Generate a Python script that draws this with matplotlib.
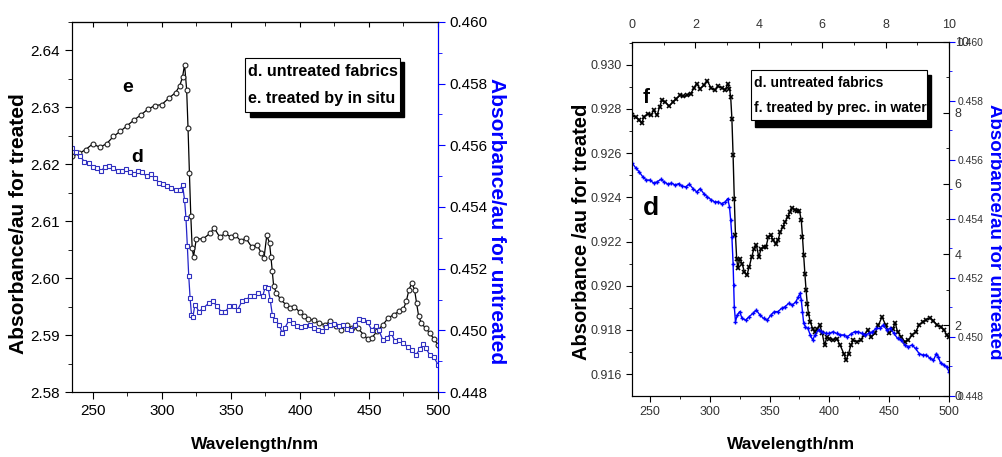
import matplotlib.pyplot as plt
from matplotlib.patches import Rectangle
from matplotlib.ticker import MultipleLocator

# ---- data ----
# left panel, curve e (treated by in situ), left axis
wl_e = [235, 240, 245, 250, 255, 260, 265, 270, 275, 280, 285, 290, 295, 300, 305, 310,
        313, 315, 316.5, 318, 319, 320, 321, 322, 323, 325, 330, 335, 338, 342, 346, 350,
        353, 357, 361, 365, 369, 372, 374, 376, 378, 379, 380, 381, 383, 386, 390, 393,
        396, 400, 403, 406, 410, 414, 418, 422, 426, 430, 434, 438, 442, 446, 449, 452,
        456, 460, 464, 468, 472, 475, 477, 479, 481, 483, 484.5, 486, 488, 491, 494, 497, 500]
abs_e = [2.6214, 2.6219, 2.6226, 2.6236, 2.6230, 2.6236, 2.6249, 2.6258, 2.6268, 2.6278,
         2.6287, 2.6297, 2.6303, 2.6305, 2.6316, 2.6326, 2.6338, 2.6353, 2.6375, 2.6331,
         2.6264, 2.6185, 2.6110, 2.6053, 2.6038, 2.6069, 2.6069, 2.6079, 2.6088, 2.6072,
         2.6079, 2.6072, 2.6076, 2.6066, 2.6070, 2.6055, 2.6059, 2.6044, 2.6035, 2.6075,
         2.6062, 2.6038, 2.6012, 2.5986, 2.5974, 2.5963, 2.5953, 2.5948, 2.5950, 2.5940,
         2.5934, 2.5928, 2.5926, 2.5921, 2.5918, 2.5924, 2.5916, 2.5909, 2.5918, 2.5912,
         2.5912, 2.5901, 2.5893, 2.5895, 2.5907, 2.5918, 2.5930, 2.5936, 2.5942, 2.5946,
         2.5959, 2.5980, 2.5991, 2.5980, 2.5956, 2.5933, 2.5921, 2.5912, 2.5904, 2.5893, 2.5883]

# left panel, curve d (untreated), right axis
wl_d1 = [235, 238, 241, 244, 247, 250, 253, 256, 259, 262, 265, 268, 271, 274, 277, 280,
         283, 286, 289, 292, 295, 298, 301, 304, 307, 310, 313, 315, 316.5, 317.5, 318.5,
         319.5, 320.5, 321.5, 322.5, 324, 327, 330, 334, 337, 340, 343, 346, 349, 352, 355,
         358, 361, 364, 367, 370, 373, 375, 377, 378.5, 380, 382, 385, 387, 389, 392, 395,
         398, 401, 404, 407, 410, 413, 416, 419, 422, 425, 428, 431, 434, 437, 440, 443,
         446, 449, 452, 455, 457, 460, 463, 466, 469, 472, 475, 478, 481, 484, 487, 489,
         491, 494, 497, 500]
abs_d1 = [0.45591, 0.45577, 0.45564, 0.45547, 0.45544, 0.45531, 0.45526, 0.45518, 0.45529,
          0.45533, 0.45526, 0.45518, 0.45518, 0.45523, 0.45515, 0.45507, 0.45518, 0.45512,
          0.45499, 0.45507, 0.45493, 0.45479, 0.45475, 0.45469, 0.45461, 0.45456, 0.45454,
          0.45472, 0.45423, 0.45364, 0.45274, 0.45177, 0.45105, 0.45051, 0.45043, 0.45083,
          0.45061, 0.45072, 0.45088, 0.45094, 0.45078, 0.45061, 0.45061, 0.45078, 0.45080,
          0.45067, 0.45094, 0.45099, 0.45110, 0.45110, 0.45121, 0.45110, 0.45142, 0.45137,
          0.45099, 0.45051, 0.45034, 0.45018, 0.44993, 0.45007, 0.45032, 0.45024, 0.45015,
          0.45011, 0.45015, 0.45018, 0.45007, 0.45002, 0.44997, 0.45011, 0.45018, 0.45021,
          0.45015, 0.45018, 0.45004, 0.45002, 0.45018, 0.45037, 0.45032, 0.45026, 0.45002,
          0.45015, 0.45002, 0.44970, 0.44975, 0.44991, 0.44964, 0.44970, 0.44959, 0.44946,
          0.44937, 0.44921, 0.44939, 0.44957, 0.44943, 0.44921, 0.44913, 0.44889]

# right panel, curve f (treated by prec. in water), left axis
wl_f = [235, 238, 241, 243, 245, 248, 251, 253, 256, 258, 260, 263, 266, 269, 272, 275,
        278, 281, 284, 287, 289, 292, 295, 298, 301, 304, 307, 310, 313, 315, 316.5, 317.5,
        318.5, 319.5, 320.5, 321.5, 322.5, 323.5, 325, 327, 329, 331, 333, 335, 337, 339,
        341, 343, 345, 347, 349, 351, 353, 355, 357, 359, 361, 363, 365, 367, 369, 371,
        373, 375, 376.5, 377.5, 378.5, 379.5, 380.5, 381.5, 382.5, 384, 386, 388, 390, 392,
        394, 396, 398, 400, 403, 406, 409, 412, 414, 416, 418, 420, 423, 426, 429, 432, 435,
        438, 441, 444, 447, 450, 453, 455, 457, 460, 463, 466, 469, 472, 475, 478, 481, 484,
        487, 490, 493, 496, 498, 500]
abs_f = [0.92771, 0.92763, 0.92751, 0.92736, 0.92763, 0.92778, 0.92771, 0.92794, 0.92771,
         0.92809, 0.92839, 0.92831, 0.92812, 0.92831, 0.92846, 0.92861, 0.92857, 0.92861,
         0.92869, 0.92896, 0.92914, 0.92892, 0.92907, 0.92926, 0.92896, 0.92884, 0.92902,
         0.92896, 0.92887, 0.92914, 0.92892, 0.92854, 0.92756, 0.92590, 0.92394, 0.92228,
         0.92123, 0.92078, 0.92123, 0.92100, 0.92063, 0.92048, 0.92085, 0.92130, 0.92168,
         0.92183, 0.92130, 0.92168, 0.92176, 0.92176, 0.92221, 0.92228, 0.92206, 0.92191,
         0.92206, 0.92243, 0.92266, 0.92289, 0.92311, 0.92334, 0.92353, 0.92344, 0.92338,
         0.92338, 0.92296, 0.92221, 0.92138, 0.92055, 0.91980, 0.91919, 0.91874, 0.91837,
         0.91806, 0.91791, 0.91806, 0.91822, 0.91784, 0.91731, 0.91769, 0.91761, 0.91754,
         0.91761, 0.91731, 0.91693, 0.91663, 0.91693, 0.91731, 0.91754, 0.91746, 0.91754,
         0.91776, 0.91799, 0.91769, 0.91784, 0.91822, 0.91859, 0.91822, 0.91784, 0.91806,
         0.91832, 0.91791, 0.91769, 0.91746, 0.91754, 0.91776, 0.91791, 0.91822, 0.91837,
         0.91847, 0.91856, 0.91841, 0.91822, 0.91814, 0.91799, 0.91776, 0.91766]

# right panel, curve d (untreated), right axis
wl_d2 = [235, 238, 241, 244, 247, 250, 253, 256, 259, 262, 265, 268, 271, 274, 277, 280,
         283, 286, 289, 292, 295, 298, 301, 304, 307, 310, 313, 315, 316.5, 317.5, 318.5,
         319.5, 320, 320.5, 321.5, 323, 325, 327, 330, 333, 336, 339, 342, 345, 348, 351,
         354, 357, 360, 363, 366, 369, 372, 374, 375.5, 376.5, 377.5, 378.5, 380, 382, 384,
         386, 388, 391, 394, 397, 400, 403, 406, 409, 412, 415, 418, 421, 424, 427, 430,
         433, 436, 439, 442, 445, 448, 451, 454, 457, 460, 463, 466, 469, 472, 475, 478,
         481, 484, 487, 489.5, 491, 493, 496, 498, 500]
abs_d2 = [0.45590, 0.45574, 0.45560, 0.45543, 0.45532, 0.45532, 0.45522, 0.45526, 0.45534,
          0.45526, 0.45518, 0.45522, 0.45515, 0.45520, 0.45511, 0.45509, 0.45518, 0.45503,
          0.45492, 0.45503, 0.45486, 0.45475, 0.45466, 0.45458, 0.45458, 0.45452, 0.45458,
          0.45469, 0.45441, 0.45396, 0.45340, 0.45249, 0.45176, 0.45103, 0.45052, 0.45074,
          0.45086, 0.45063, 0.45057, 0.45069, 0.45080, 0.45091, 0.45074, 0.45063, 0.45057,
          0.45074, 0.45086, 0.45086, 0.45097, 0.45103, 0.45114, 0.45108, 0.45120, 0.45136,
          0.45148, 0.45125, 0.45086, 0.45046, 0.45035, 0.45029, 0.45007, 0.44990, 0.45007,
          0.45024, 0.45018, 0.45012, 0.45012, 0.45018, 0.45012, 0.45007, 0.45007, 0.45001,
          0.45010, 0.45018, 0.45018, 0.45012, 0.45007, 0.45012, 0.45018, 0.45029, 0.45029,
          0.45040, 0.45024, 0.45029, 0.45012, 0.44995, 0.44990, 0.44973, 0.44967, 0.44973,
          0.44961, 0.44944, 0.44939, 0.44939, 0.44928, 0.44922, 0.44944, 0.44933, 0.44911,
          0.44905, 0.44899, 0.44882]

plt.rcParams['font.family'] = ['Liberation Sans', 'DejaVu Sans']

fig = plt.figure(figsize=(10.03, 4.57), dpi=100)


def place_ylabel(a, x, y):
    a.yaxis.set_label_coords(x, y)
    a.yaxis.label.set_va('center')
    a.yaxis.label.set_ha('center')


# ================= left panel =================
ax = fig.add_axes([0.0718, 0.1422, 0.3649, 0.8097])
ax.plot(wl_e, abs_e, color='black', lw=0.9, marker='o', ms=3.5, mfc='white',
        mec='#222222', mew=0.8)
ax.set_xlim(235, 500)
ax.set_ylim(2.58, 2.645)
ax.xaxis.set_major_locator(MultipleLocator(50))
ax.xaxis.set_minor_locator(MultipleLocator(25))
ax.yaxis.set_major_locator(MultipleLocator(0.01))
ax.yaxis.set_minor_locator(MultipleLocator(0.005))
ax.yaxis.set_major_formatter(plt.FormatStrFormatter('%.2f'))
ax.tick_params(which='both', direction='out', labelsize=11)
ax.tick_params(which='major', length=5)
ax.tick_params(which='minor', length=3)
top = ax.secondary_xaxis('top')
top.xaxis.set_major_locator(MultipleLocator(50))
top.xaxis.set_minor_locator(MultipleLocator(25))
top.tick_params(which='both', direction='in', labeltop=False)
top.tick_params(which='minor', length=3)
ax.set_xlabel('Wavelength/nm', fontsize=12.5, fontweight='bold')
ax.xaxis.set_label_coords(0.5, -0.143)
ax.xaxis.label.set_va('center')
ax.set_ylabel('Absorbance/au for treated', fontsize=15, fontweight='bold')
place_ylabel(ax, -0.1475, 0.454)

axb = ax.twinx()
axb.plot(wl_d1, abs_d1, color='#2424c8', lw=0.9, marker='s', ms=3.2, mfc='white',
         mec='#3030c0', mew=0.8)
axb.set_ylim(0.448, 0.460)
axb.yaxis.set_major_locator(MultipleLocator(0.002))
axb.yaxis.set_minor_locator(MultipleLocator(0.001))
axb.yaxis.set_major_formatter(plt.FormatStrFormatter('%.3f'))
axb.tick_params(which='both', direction='out', colors='blue', labelcolor='black',
                labelsize=11)
axb.tick_params(which='major', length=5)
axb.tick_params(which='minor', length=3)
axb.spines['right'].set_color('blue')
axb.set_ylabel('Absorbance/au for untreated', fontsize=15, fontweight='bold',
               color='blue', rotation=270)
place_ylabel(axb, 1.161, 0.462)

# legend box with shadow
ax.add_patch(Rectangle((0.486, 0.743), 0.421, 0.149, transform=ax.transAxes,
                       facecolor='black', edgecolor='black', zorder=5))
ax.add_patch(Rectangle((0.473, 0.757), 0.423, 0.146, transform=ax.transAxes,
                       facecolor='white', edgecolor='black', lw=0.8, zorder=6))
ax.text(0.482, 0.866, 'd. untreated fabrics', transform=ax.transAxes, fontsize=11.6,
        fontweight='bold', va='center', zorder=7)
ax.text(0.482, 0.793, 'e. treated by in situ', transform=ax.transAxes, fontsize=11.6,
        fontweight='bold', va='center', zorder=7)
ax.text(275, 2.6335, 'e', fontsize=14, fontweight='bold', ha='center', va='center')
ax.text(282, 2.6212, 'd', fontsize=14, fontweight='bold', ha='center', va='center')

# ================= right panel =================
ax2 = fig.add_axes([0.6301, 0.1335, 0.3161, 0.7746])
ax2.plot(wl_f, abs_f, color='black', lw=1.0, marker='x', ms=3.5, mew=1.2)
ax2.set_xlim(235, 500)
ax2.set_ylim(0.91501, 0.93103)
ax2.xaxis.set_major_locator(MultipleLocator(50))
ax2.xaxis.set_minor_locator(MultipleLocator(25))
ax2.yaxis.set_major_locator(MultipleLocator(0.002))
ax2.yaxis.set_minor_locator(MultipleLocator(0.001))
ax2.yaxis.set_major_formatter(plt.FormatStrFormatter('%.3f'))
ax2.tick_params(which='both', direction='out', labelsize=9, labelcolor='#333333')
ax2.tick_params(which='major', length=4)
ax2.tick_params(which='minor', length=2.5)
ax2.set_xlabel('Wavelength/nm', fontsize=12.5, fontweight='bold')
ax2.xaxis.set_label_coords(0.502, -0.138)
ax2.xaxis.label.set_va('center')
ax2.set_ylabel('Absorbance /au for treated', fontsize=14.5, fontweight='bold')
place_ylabel(ax2, -0.158, 0.463)

ax2b = ax2.twinx()
ax2b.plot(wl_d2, abs_d2, color='blue', lw=1.0, marker='+', ms=3.5, mew=1.0)
ax2b.set_ylim(0.448, 0.460)
ax2b.yaxis.set_major_locator(MultipleLocator(0.002))
ax2b.yaxis.set_minor_locator(MultipleLocator(0.001))
ax2b.yaxis.set_major_formatter(plt.FormatStrFormatter('%.3f'))
ax2b.tick_params(which='both', direction='out', colors='blue', labelcolor='#333333',
                 labelsize=7.5)
ax2b.tick_params(which='major', length=4, pad=2.5)
ax2b.tick_params(which='minor', length=2.5)
ax2b.set_ylabel('Absorbance/au for untreated', fontsize=13.5, fontweight='bold',
                color='blue', rotation=270)
place_ylabel(ax2b, 1.143, 0.465)

# extra 0-10 frame (top and right)
ax3 = fig.add_axes([0.6301, 0.1335, 0.3161, 0.7746], frameon=False)
ax3.patch.set_visible(False)
ax3.set_xlim(0, 10)
ax3.set_ylim(0, 10)
ax3.xaxis.tick_top()
ax3.yaxis.tick_right()
ax3.xaxis.set_major_locator(MultipleLocator(2))
ax3.xaxis.set_minor_locator(MultipleLocator(1))
ax3.yaxis.set_major_locator(MultipleLocator(2))
ax3.yaxis.set_minor_locator(MultipleLocator(1))
ax3.tick_params(which='both', direction='in', labelsize=9, labelcolor='#333333')
ax3.tick_params(which='major', length=4)
ax3.tick_params(which='minor', length=2.5)
ax3.tick_params(axis='x', pad=8)
ax3.tick_params(axis='y', pad=4)

ax2.add_patch(Rectangle((0.388, 0.760), 0.555, 0.147, transform=ax2.transAxes,
                        facecolor='black', edgecolor='black', zorder=5))
ax2.add_patch(Rectangle((0.375, 0.780), 0.556, 0.141, transform=ax2.transAxes,
                        facecolor='white', edgecolor='black', lw=0.8, zorder=6))
ax2.text(0.385, 0.885, 'd. untreated fabrics', transform=ax2.transAxes, fontsize=10,
         fontweight='bold', va='center', zorder=7)
ax2.text(0.385, 0.814, 'f. treated by prec. in water', transform=ax2.transAxes,
         fontsize=10, fontweight='bold', va='center', zorder=7)
ax2.text(247, 0.9285, 'f', fontsize=15, fontweight='bold', ha='center', va='center')
ax2.text(251, 0.9235, 'd', fontsize=19, fontweight='bold', ha='center', va='center')

fig.savefig('out.png', dpi=100)
